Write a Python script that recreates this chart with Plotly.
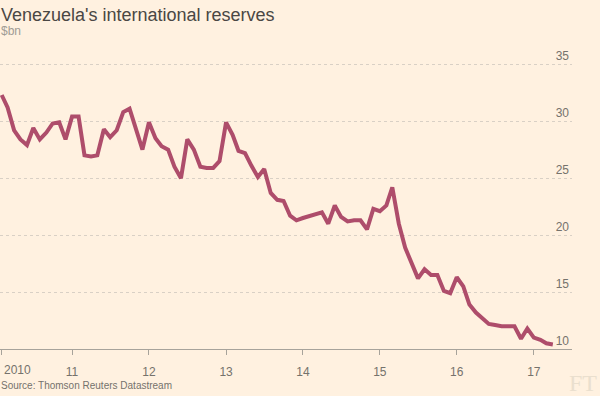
import pandas as pd
import plotly.graph_objects as go

# Monthly international reserves, $bn (Feb 2010 - Apr 2017)
start_month = "2010-02-01"
reserves = [
    32.3, 31.2, 29.2, 28.4, 27.9, 29.4, 28.4, 29.0, 29.8, 29.9, 28.4, 30.4,
    30.4, 27.0, 26.9, 27.0, 29.3, 28.6, 29.2, 30.8, 31.1, 29.3, 27.5, 29.9,
    28.5, 27.8, 27.5, 26.0, 25.0, 28.4, 27.5, 26.0, 25.9, 25.9, 26.5, 29.9,
    28.8, 27.4, 27.2, 26.1, 25.1, 25.8, 23.7, 23.1, 23.0, 21.7, 21.3, 21.5,
    21.7, 21.8, 22.0, 21.0, 22.6, 21.6, 21.2, 21.3, 21.3, 20.5, 22.3, 22.1,
    22.6, 24.2, 21.0, 18.9, 17.5, 16.2, 17.0, 16.5, 16.5, 15.1, 14.9, 16.3,
    15.5, 13.9, 13.2, 12.7, 12.2, 12.1, 12.0, 12.0, 12.0, 10.9, 11.8, 11.0,
    10.8, 10.5, 10.4,
]
months = pd.date_range(start_month, periods=len(reserves), freq="MS")

x_tick_vals = ["2010-02-01", "2011-01-01", "2012-01-01", "2013-01-01",
               "2014-01-01", "2015-01-01", "2016-01-01", "2017-01-01"]
x_tick_text = ["", "11", "12", "13", "14", "15", "16", "17"]
first_year_label = "2010"
y_tick_vals = [10, 15, 20, 25, 30, 35]

BG = "#fff1e0"
LINE = "#ae4d6b"
GREY = "#75726c"
FONT = "Liberation Sans"

T, B = 46, 47
PH = 396 - T - B  # plot height in px


def py(p):
    """pixel row -> paper y"""
    return (396 - B - p) / PH


fig = go.Figure()
fig.add_trace(go.Scatter(
    x=months, y=reserves, mode="lines",
    line=dict(color=LINE, width=4, shape="linear"),
    hoverinfo="skip", showlegend=False,
))

fig.update_layout(
    width=600, height=396,
    margin=dict(l=0, r=28, t=T, b=B, pad=0),
    paper_bgcolor=BG, plot_bgcolor=BG,
    font=dict(family=FONT, color=GREY),
    xaxis=dict(
        range=["2010-01-24", "2017-07-01"],
        tickvals=x_tick_vals, ticktext=x_tick_text,
        showgrid=False, zeroline=False,
        showline=True, linecolor="#a7a39b", linewidth=1,
        ticks="outside", ticklen=5, tickcolor="#a7a39b", tickwidth=1,
        tickfont=dict(size=12, color=GREY, family=FONT),
        ticklabelstandoff=7,
    ),
    yaxis=dict(
        range=[10, 36.6], side="right",
        tickvals=y_tick_vals,
        ticklabelposition="inside top",
        showgrid=True, gridcolor="#d9d0c5", griddash="dot", gridwidth=1,
        zeroline=False, showline=False, ticks="", ticklen=0,
        tickfont=dict(size=12, color=GREY, family=FONT),
    ),
    annotations=[
        dict(text="Venezuela's international reserves", xref="paper", yref="paper",
             x=0, y=py(15), xanchor="left", yanchor="middle", xshift=-1,
             showarrow=False, font=dict(size=18, color="#4a4744", family=FONT)),
        dict(text="$bn", xref="paper", yref="paper",
             x=0, y=py(31), xanchor="left", yanchor="middle", xshift=-1,
             showarrow=False, font=dict(size=12, color="#a09c95", family=FONT)),
        dict(text="Source: Thomson Reuters Datastream", xref="paper", yref="paper",
             x=0, y=py(385), xanchor="left", yanchor="middle", xshift=-1,
             showarrow=False, font=dict(size=10, color=GREY, family=FONT)),
        dict(text="FT", xref="paper", yref="paper",
             x=(599 / 572), y=py(383), xanchor="right", yanchor="middle",
             showarrow=False, font=dict(size=24, color="#eadfce", family="Liberation Serif")),
        dict(text=first_year_label, xref="x", yref="paper",
             x=x_tick_vals[0], y=py(370), xanchor="left", yanchor="middle",
             showarrow=False, font=dict(size=12, color=GREY, family=FONT)),
    ],
)

fig.write_html("out.html", config={"displayModeBar": False},
               post_script="document.body.style.margin='0';")
